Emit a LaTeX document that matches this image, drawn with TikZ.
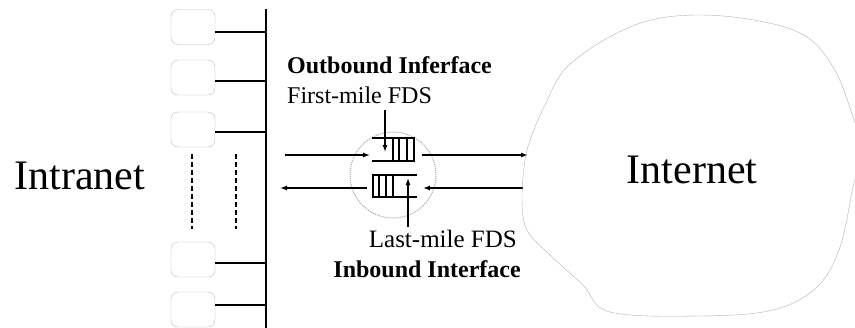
\documentclass[tikz,border=0pt]{standalone}
\usepackage{fontspec}
\setmainfont{Liberation Serif}
\usetikzlibrary{arrows.meta}

\begin{document}
\begin{tikzpicture}[x=1pt,y=-1pt,
  host/.style={draw=gray!55, rounded corners=7pt, minimum width=44pt, minimum height=35pt, inner sep=0pt},
  wire/.style={line width=2.2pt},
  bar/.style={line width=1.6pt},
  flow/.style={line width=1.3pt, -{Latex[length=7pt,width=5pt]}},
  lbl/.style={inner sep=0pt, font=\fontsize{24}{24}\selectfont},
  big/.style={inner sep=0pt, font=\fontsize{42}{42}\selectfont}]

\useasboundingbox (0,0) rectangle (855,327);

% hosts on the intranet bus
\node[host] (h1) at (193,27) {};
\node[host] (h2) at (193,77.5) {};
\node[host] (h3) at (193,129.5) {};
\node[host] (h4) at (193,259.5) {};
\node[host] (h5) at (193,309.5) {};

\coordinate (bt) at (266,9);
\coordinate (bb) at (266,330);
\coordinate (b1) at (266,32);
\coordinate (b2) at (266,81);
\coordinate (b3) at (266,132);
\coordinate (b4) at (266,263);
\coordinate (b5) at (266,305);

\draw[wire] (bt) -- (bb);
\draw[wire] (h1.east |- b1) -- (b1);
\draw[wire] (h2.east |- b2) -- (b2);
\draw[wire] (h3.east |- b3) -- (b3);
\draw[wire] (h4.east |- b4) -- (b4);
\draw[wire] (h5.east |- b5) -- (b5);

\draw[wire, dash pattern=on 5pt off 3pt] (192,154) -- (192,229);
\draw[wire, dash pattern=on 5pt off 3pt] (236,154) -- (236,229);

\node[big] (intra) at (80,176) {Intranet};

% interface with the two queues
\node[circle, draw=gray!70, densely dotted, line width=1pt, minimum size=86pt, inner sep=0pt] (ifc) at (393,175) {};

\draw[bar] (372,138) -- (414,138) -- (414,161) -- (372,161);
\foreach \x in {393,399,407}
  \draw[bar] (\x,138) -- (\x,161);
\draw[bar] (417,175) -- (373,175) -- (373,197) -- (417,197);
\foreach \x in {379,386,393}
  \draw[bar] (\x,175) -- (\x,197);

\coordinate (o1) at (285,155);
\coordinate (o2) at (370,155);
\coordinate (o3) at (422,155);
\coordinate (c1) at (528,155);
\coordinate (c2) at (523,188);
\coordinate (i1) at (423,188);
\coordinate (i2) at (367,188);
\coordinate (i3) at (280,188);
\coordinate (f1) at (385,110);
\coordinate (f2) at (385,152);
\coordinate (l1) at (408,227);
\coordinate (l2) at (408,178);

\draw[flow] (o1) -- (o2);
\draw[flow] (o3) -- (c1);
\draw[flow] (c2) -- (i1);
\draw[flow] (i2) -- (i3);
\draw[flow] (f1) -- (f2);
\draw[flow] (l1) -- (l2);

\node[lbl, anchor=base west] (obi) at (287,73) {\bfseries Outbound Inferface};
\node[lbl, anchor=base west] (fm) at (287,103) {First-mile FDS};
\node[lbl, anchor=base east, font=\fontsize{25}{25}\selectfont] (lm) at (517,247) {Last-mile FDS};
\node[lbl, anchor=base east] (ibi) at (521,277) {\bfseries Inbound Interface};

% internet cloud
\draw[gray!60] plot[smooth cycle, tension=0.6] coordinates {
  (525,160) (532,135) (545,105) (567,67) (617,33) (667,17) (733,17)
  (800,33) (833,67) (853,117) (862,150) (853,187) (840,247) (817,287)
  (773,310) (700,316) (610,312) (583,285) (550,255) (527,230) (522,200)};

\node[big] (inter) at (692,170) {Internet};

\end{tikzpicture}
\end{document}
